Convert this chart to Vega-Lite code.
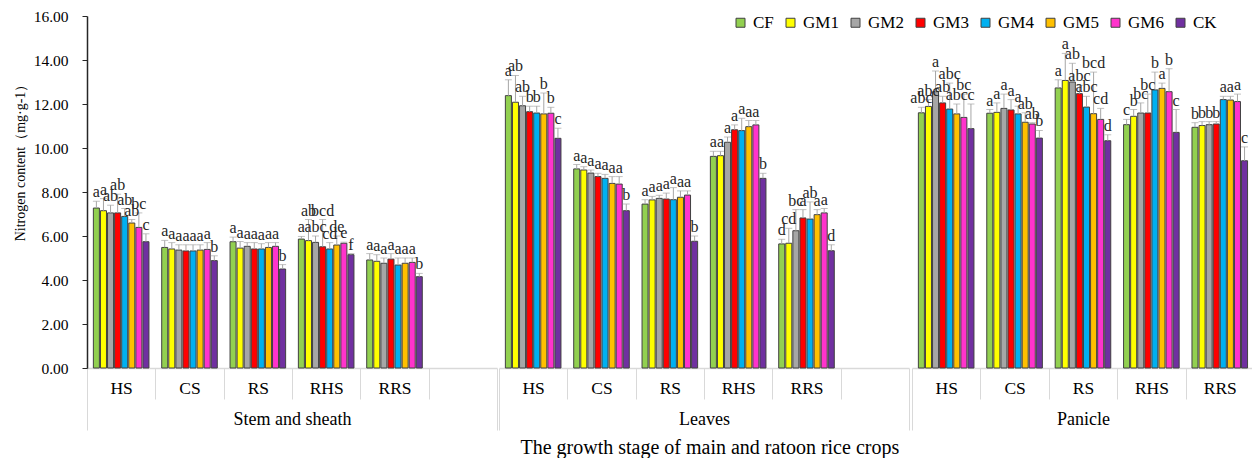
{
  "$schema": "https://vega.github.io/schema/vega-lite/v6.json",
  "background": "white",
  "padding": {"left": 13, "top": 9, "right": 0, "bottom": 0},
  "spacing": 0,
  "config": {
    "view": {"stroke": null},
    "font": "Liberation Serif",
    "concat": {"spacing": 0}
  },
  "title": {"text": "The growth stage of main and ratoon rice crops", "orient": "bottom", "anchor": "middle", "fontSize": 20, "fontWeight": "normal", "font": "Liberation Serif", "color": "#000000", "offset": 7, "dx": 76},
  "datasets": {
    "d": [
      {"o": "Stem and sheath", "s": "HS", "t": "CF", "v": 7.27, "hi": 7.58, "g": "a"},
      {"o": "Stem and sheath", "s": "HS", "t": "GM1", "v": 7.15, "hi": 7.7, "g": "a"},
      {"o": "Stem and sheath", "s": "HS", "t": "GM2", "v": 7.05, "hi": 7.4, "g": "ab"},
      {"o": "Stem and sheath", "s": "HS", "t": "GM3", "v": 7.05, "hi": 7.9, "g": "ab"},
      {"o": "Stem and sheath", "s": "HS", "t": "GM4", "v": 6.89, "hi": 7.25, "g": "ab"},
      {"o": "Stem and sheath", "s": "HS", "t": "GM5", "v": 6.59, "hi": 6.75, "g": "ab"},
      {"o": "Stem and sheath", "s": "HS", "t": "GM6", "v": 6.39, "hi": 7.05, "g": "bc"},
      {"o": "Stem and sheath", "s": "HS", "t": "CK", "v": 5.74, "hi": 6.1, "g": "c"},
      {"o": "Stem and sheath", "s": "CS", "t": "CF", "v": 5.48, "hi": 5.8, "g": "a"},
      {"o": "Stem and sheath", "s": "CS", "t": "GM1", "v": 5.41, "hi": 5.7, "g": "a"},
      {"o": "Stem and sheath", "s": "CS", "t": "GM2", "v": 5.36, "hi": 5.6, "g": "a"},
      {"o": "Stem and sheath", "s": "CS", "t": "GM3", "v": 5.32, "hi": 5.6, "g": "a"},
      {"o": "Stem and sheath", "s": "CS", "t": "GM4", "v": 5.32, "hi": 5.6, "g": "a"},
      {"o": "Stem and sheath", "s": "CS", "t": "GM5", "v": 5.36, "hi": 5.6, "g": "a"},
      {"o": "Stem and sheath", "s": "CS", "t": "GM6", "v": 5.39, "hi": 5.7, "g": "a"},
      {"o": "Stem and sheath", "s": "CS", "t": "CK", "v": 4.88, "hi": 5.1, "g": "b"},
      {"o": "Stem and sheath", "s": "RS", "t": "CF", "v": 5.74, "hi": 5.95, "g": "a"},
      {"o": "Stem and sheath", "s": "RS", "t": "GM1", "v": 5.45, "hi": 5.75, "g": "a"},
      {"o": "Stem and sheath", "s": "RS", "t": "GM2", "v": 5.53, "hi": 5.7, "g": "a"},
      {"o": "Stem and sheath", "s": "RS", "t": "GM3", "v": 5.41, "hi": 5.7, "g": "a"},
      {"o": "Stem and sheath", "s": "RS", "t": "GM4", "v": 5.41, "hi": 5.65, "g": "a"},
      {"o": "Stem and sheath", "s": "RS", "t": "GM5", "v": 5.48, "hi": 5.7, "g": "a"},
      {"o": "Stem and sheath", "s": "RS", "t": "GM6", "v": 5.53, "hi": 5.7, "g": "a"},
      {"o": "Stem and sheath", "s": "RS", "t": "CK", "v": 4.5, "hi": 4.7, "g": "b"},
      {"o": "Stem and sheath", "s": "RHS", "t": "CF", "v": 5.86, "hi": 5.98, "g": "a"},
      {"o": "Stem and sheath", "s": "RHS", "t": "GM1", "v": 5.79, "hi": 6.75, "g": "ab"},
      {"o": "Stem and sheath", "s": "RHS", "t": "GM2", "v": 5.71, "hi": 6.0, "g": "abc"},
      {"o": "Stem and sheath", "s": "RHS", "t": "GM3", "v": 5.51, "hi": 6.75, "g": "bcd"},
      {"o": "Stem and sheath", "s": "RHS", "t": "GM4", "v": 5.41, "hi": 5.7, "g": "cd"},
      {"o": "Stem and sheath", "s": "RHS", "t": "GM5", "v": 5.59, "hi": 6.0, "g": "de"},
      {"o": "Stem and sheath", "s": "RHS", "t": "GM6", "v": 5.67, "hi": 5.72, "g": "e"},
      {"o": "Stem and sheath", "s": "RHS", "t": "CK", "v": 5.15, "hi": 5.2, "g": "f"},
      {"o": "Stem and sheath", "s": "RRS", "t": "CF", "v": 4.91, "hi": 5.2, "g": "a"},
      {"o": "Stem and sheath", "s": "RRS", "t": "GM1", "v": 4.85, "hi": 5.15, "g": "a"},
      {"o": "Stem and sheath", "s": "RRS", "t": "GM2", "v": 4.76, "hi": 5.0, "g": "a"},
      {"o": "Stem and sheath", "s": "RRS", "t": "GM3", "v": 4.95, "hi": 5.2, "g": "a"},
      {"o": "Stem and sheath", "s": "RRS", "t": "GM4", "v": 4.68, "hi": 5.0, "g": "a"},
      {"o": "Stem and sheath", "s": "RRS", "t": "GM5", "v": 4.76, "hi": 5.0, "g": "a"},
      {"o": "Stem and sheath", "s": "RRS", "t": "GM6", "v": 4.8, "hi": 5.0, "g": "a"},
      {"o": "Stem and sheath", "s": "RRS", "t": "CK", "v": 4.15, "hi": 4.3, "g": "b"},
      {"o": "Leaves", "s": "HS", "t": "CF", "v": 12.38, "hi": 13.1, "g": "a"},
      {"o": "Leaves", "s": "HS", "t": "GM1", "v": 12.08, "hi": 13.3, "g": "ab"},
      {"o": "Leaves", "s": "HS", "t": "GM2", "v": 11.92, "hi": 12.35, "g": "ab"},
      {"o": "Leaves", "s": "HS", "t": "GM3", "v": 11.65, "hi": 11.9, "g": "b"},
      {"o": "Leaves", "s": "HS", "t": "GM4", "v": 11.59, "hi": 11.9, "g": "b"},
      {"o": "Leaves", "s": "HS", "t": "GM5", "v": 11.55, "hi": 12.5, "g": "b"},
      {"o": "Leaves", "s": "HS", "t": "GM6", "v": 11.58, "hi": 11.85, "g": "b"},
      {"o": "Leaves", "s": "HS", "t": "CK", "v": 10.44, "hi": 10.9, "g": "c"},
      {"o": "Leaves", "s": "CS", "t": "CF", "v": 9.05, "hi": 9.25, "g": "a"},
      {"o": "Leaves", "s": "CS", "t": "GM1", "v": 9.0, "hi": 9.15, "g": "a"},
      {"o": "Leaves", "s": "CS", "t": "GM2", "v": 8.86, "hi": 9.0, "g": "a"},
      {"o": "Leaves", "s": "CS", "t": "GM3", "v": 8.7, "hi": 8.85, "g": "a"},
      {"o": "Leaves", "s": "CS", "t": "GM4", "v": 8.62, "hi": 8.8, "g": "a"},
      {"o": "Leaves", "s": "CS", "t": "GM5", "v": 8.39, "hi": 8.7, "g": "a"},
      {"o": "Leaves", "s": "CS", "t": "GM6", "v": 8.36, "hi": 8.7, "g": "a"},
      {"o": "Leaves", "s": "CS", "t": "CK", "v": 7.15, "hi": 7.45, "g": "b"},
      {"o": "Leaves", "s": "RS", "t": "CF", "v": 7.45, "hi": 7.65, "g": "a"},
      {"o": "Leaves", "s": "RS", "t": "GM1", "v": 7.64, "hi": 7.8, "g": "a"},
      {"o": "Leaves", "s": "RS", "t": "GM2", "v": 7.71, "hi": 7.85, "g": "a"},
      {"o": "Leaves", "s": "RS", "t": "GM3", "v": 7.68, "hi": 7.95, "g": "a"},
      {"o": "Leaves", "s": "RS", "t": "GM4", "v": 7.65, "hi": 8.2, "g": "a"},
      {"o": "Leaves", "s": "RS", "t": "GM5", "v": 7.76, "hi": 8.05, "g": "a"},
      {"o": "Leaves", "s": "RS", "t": "GM6", "v": 7.86, "hi": 8.05, "g": "a"},
      {"o": "Leaves", "s": "RS", "t": "CK", "v": 5.76, "hi": 6.0, "g": "b"},
      {"o": "Leaves", "s": "RHS", "t": "CF", "v": 9.62, "hi": 9.85, "g": "a"},
      {"o": "Leaves", "s": "RHS", "t": "GM1", "v": 9.65, "hi": 9.85, "g": "a"},
      {"o": "Leaves", "s": "RHS", "t": "GM2", "v": 10.26, "hi": 10.5, "g": "a"},
      {"o": "Leaves", "s": "RHS", "t": "GM3", "v": 10.83, "hi": 11.05, "g": "a"},
      {"o": "Leaves", "s": "RHS", "t": "GM4", "v": 10.79, "hi": 11.35, "g": "a"},
      {"o": "Leaves", "s": "RHS", "t": "GM5", "v": 10.97, "hi": 11.25, "g": "a"},
      {"o": "Leaves", "s": "RHS", "t": "GM6", "v": 11.05, "hi": 11.25, "g": "a"},
      {"o": "Leaves", "s": "RHS", "t": "CK", "v": 8.62, "hi": 8.85, "g": "b"},
      {"o": "Leaves", "s": "RRS", "t": "CF", "v": 5.64, "hi": 5.85, "g": "d"},
      {"o": "Leaves", "s": "RRS", "t": "GM1", "v": 5.67, "hi": 6.35, "g": "cd"},
      {"o": "Leaves", "s": "RRS", "t": "GM2", "v": 6.24, "hi": 7.2, "g": "bc"},
      {"o": "Leaves", "s": "RRS", "t": "GM3", "v": 6.82, "hi": 7.2, "g": "a"},
      {"o": "Leaves", "s": "RRS", "t": "GM4", "v": 6.77, "hi": 7.55, "g": "ab"},
      {"o": "Leaves", "s": "RRS", "t": "GM5", "v": 6.97, "hi": 7.2, "g": "a"},
      {"o": "Leaves", "s": "RRS", "t": "GM6", "v": 7.05, "hi": 7.25, "g": "a"},
      {"o": "Leaves", "s": "RRS", "t": "CK", "v": 5.33, "hi": 5.6, "g": "d"},
      {"o": "Panicle", "s": "HS", "t": "CF", "v": 11.6, "hi": 11.85, "g": "abc"},
      {"o": "Panicle", "s": "HS", "t": "GM1", "v": 11.89, "hi": 12.2, "g": "abc"},
      {"o": "Panicle", "s": "HS", "t": "GM2", "v": 12.56, "hi": 13.5, "g": "a"},
      {"o": "Panicle", "s": "HS", "t": "GM3", "v": 12.05, "hi": 12.35, "g": "ab"},
      {"o": "Panicle", "s": "HS", "t": "GM4", "v": 11.77, "hi": 12.95, "g": "abc"},
      {"o": "Panicle", "s": "HS", "t": "GM5", "v": 11.55, "hi": 12.0, "g": "abc"},
      {"o": "Panicle", "s": "HS", "t": "GM6", "v": 11.39, "hi": 12.45, "g": "bc"},
      {"o": "Panicle", "s": "HS", "t": "CK", "v": 10.88, "hi": 12.0, "g": "c"},
      {"o": "Panicle", "s": "CS", "t": "CF", "v": 11.58, "hi": 11.75, "g": "a"},
      {"o": "Panicle", "s": "CS", "t": "GM1", "v": 11.62, "hi": 12.05, "g": "a"},
      {"o": "Panicle", "s": "CS", "t": "GM2", "v": 11.8, "hi": 12.45, "g": "a"},
      {"o": "Panicle", "s": "CS", "t": "GM3", "v": 11.73, "hi": 12.2, "g": "a"},
      {"o": "Panicle", "s": "CS", "t": "GM4", "v": 11.55, "hi": 11.9, "g": "a"},
      {"o": "Panicle", "s": "CS", "t": "GM5", "v": 11.17, "hi": 11.6, "g": "ab"},
      {"o": "Panicle", "s": "CS", "t": "GM6", "v": 11.09, "hi": 11.15, "g": "ab"},
      {"o": "Panicle", "s": "CS", "t": "CK", "v": 10.45, "hi": 10.8, "g": "b"},
      {"o": "Panicle", "s": "RS", "t": "CF", "v": 12.73, "hi": 13.1, "g": "a"},
      {"o": "Panicle", "s": "RS", "t": "GM1", "v": 13.07, "hi": 14.3, "g": "a"},
      {"o": "Panicle", "s": "RS", "t": "GM2", "v": 13.0, "hi": 13.85, "g": "ab"},
      {"o": "Panicle", "s": "RS", "t": "GM3", "v": 12.47, "hi": 12.85, "g": "abc"},
      {"o": "Panicle", "s": "RS", "t": "GM4", "v": 11.86, "hi": 12.35, "g": "abc"},
      {"o": "Panicle", "s": "RS", "t": "GM5", "v": 11.56, "hi": 13.45, "g": "bcd"},
      {"o": "Panicle", "s": "RS", "t": "GM6", "v": 11.3, "hi": 11.8, "g": "cd"},
      {"o": "Panicle", "s": "RS", "t": "CK", "v": 10.33, "hi": 10.6, "g": "d"},
      {"o": "Panicle", "s": "RHS", "t": "CF", "v": 11.06, "hi": 11.3, "g": "c"},
      {"o": "Panicle", "s": "RHS", "t": "GM1", "v": 11.44, "hi": 11.75, "g": "b"},
      {"o": "Panicle", "s": "RHS", "t": "GM2", "v": 11.59, "hi": 12.05, "g": "bc"},
      {"o": "Panicle", "s": "RHS", "t": "GM3", "v": 11.59, "hi": 12.45, "g": "bc"},
      {"o": "Panicle", "s": "RHS", "t": "GM4", "v": 12.64, "hi": 13.45, "g": "b"},
      {"o": "Panicle", "s": "RHS", "t": "GM5", "v": 12.71, "hi": 12.95, "g": "a"},
      {"o": "Panicle", "s": "RHS", "t": "GM6", "v": 12.56, "hi": 13.6, "g": "b"},
      {"o": "Panicle", "s": "RHS", "t": "CK", "v": 10.71, "hi": 11.75, "g": "c"},
      {"o": "Panicle", "s": "RRS", "t": "CF", "v": 10.94, "hi": 11.15, "g": "b"},
      {"o": "Panicle", "s": "RRS", "t": "GM1", "v": 11.02, "hi": 11.2, "g": "b"},
      {"o": "Panicle", "s": "RRS", "t": "GM2", "v": 11.06, "hi": 11.2, "g": "b"},
      {"o": "Panicle", "s": "RRS", "t": "GM3", "v": 11.09, "hi": 11.2, "g": "b"},
      {"o": "Panicle", "s": "RRS", "t": "GM4", "v": 12.2, "hi": 12.35, "g": "a"},
      {"o": "Panicle", "s": "RRS", "t": "GM5", "v": 12.18, "hi": 12.35, "g": "a"},
      {"o": "Panicle", "s": "RRS", "t": "GM6", "v": 12.11, "hi": 12.45, "g": "a"},
      {"o": "Panicle", "s": "RRS", "t": "CK", "v": 9.42, "hi": 10.05, "g": "c"}
    ]
  },
  "data": {"name": "d"},
  "hconcat": [
    {
      "width": 410,
      "height": 352,
      "transform": [{"filter": "datum.o == 'Stem and sheath'"}],
      "encoding": {
        "x": {"field": "s", "type": "nominal", "title": "Stem and sheath",
          "scale": {"domain": ["HS", "CS", "RS", "RHS", "RRS", "_"], "paddingInner": 0, "paddingOuter": 0},
          "axis": {"labelExpr": "datum.value == '_' ? '' : datum.value", "labelAngle": 0, "labelFont": "Liberation Serif", "labelFontSize": 17.5, "labelColor": "#000000", "labelBaseline": "middle", "labelPadding": -11, "labelOverlap": false,
            "tickBand": "extent", "tickColor": "#d9d9d9", "tickWidth": 1,
            "tickSize": {"condition": {"test": "datum.index == -1 || datum.index == 1", "value": 62}, "value": 31},
            "domainColor": "#d9d9d9", "domainWidth": 1.5,
            "titleFont": "Liberation Serif", "titleFontSize": 18, "titleFontWeight": "normal", "titleColor": "#000000", "titleY": 51, "titleBaseline": "middle"}},
        "xOffset": {"field": "t", "type": "nominal", "scale": {"domain": ["CF", "GM1", "GM2", "GM3", "GM4", "GM5", "GM6", "CK"], "paddingInner": 0.15, "paddingOuter": 0.9}},
        "y": {"field": "v", "type": "quantitative", "title": "Nitrogen content（mg·g-1）",
          "scale": {"domain": [0, 16], "nice": false},
          "axis": {"values": [0, 2, 4, 6, 8, 10, 12, 14, 16], "format": ".2f", "grid": false, "labelFont": "Liberation Serif", "labelFontSize": 15.5, "labelColor": "#000000", "labelPadding": 14, "tickSize": 5, "tickColor": "#262626", "domainColor": "#262626", "domainWidth": 1.5,
            "titleFont": "Liberation Serif", "titleFontSize": 14, "titleFontWeight": "normal", "titleColor": "#000000", "titlePadding": 6, "titleY": 143}}
      },
      "layer": [
        {
          "mark": {"type": "bar", "stroke": "#404040", "strokeWidth": 1},
          "encoding": {
            "fill": {"field": "t", "type": "nominal", "title": null,
              "scale": {"domain": ["CF", "GM1", "GM2", "GM3", "GM4", "GM5", "GM6", "CK"], "range": ["#92D050", "#FFFF00", "#A6A6A6", "#FF0000", "#00B0F0", "#FFC000", "#FF33CC", "#7030A0"]},
              "legend": {"orient": "none", "legendX": 645, "legendY": -2, "direction": "horizontal", "columns": 8, "padding": 0,
                "symbolType": "square", "symbolSize": 81, "symbolStrokeColor": "#404040", "symbolStrokeWidth": 1,
                "labelFont": "Liberation Serif", "labelFontSize": 17, "labelColor": "#000000", "labelOffset": 4, "columnPadding": 8}}
          }
        },
        {
          "mark": {"type": "rule", "color": "#a6a6a6", "strokeWidth": 1},
          "encoding": {
            "y2": {"field": "hi"}
          }
        },
        {
          "mark": {"type": "tick", "orient": "horizontal", "size": 7, "thickness": 1, "color": "#a6a6a6"},
          "encoding": {
            "y": {"field": "hi", "type": "quantitative", "title": "Nitrogen content（mg·g-1）",
              "scale": {"domain": [0, 16], "nice": false},
              "axis": {"values": [0, 2, 4, 6, 8, 10, 12, 14, 16], "format": ".2f", "grid": false, "labelFont": "Liberation Serif", "labelFontSize": 15.5, "labelColor": "#000000", "labelPadding": 14, "tickSize": 5, "tickColor": "#262626", "domainColor": "#262626", "domainWidth": 1.5,
                "titleFont": "Liberation Serif", "titleFontSize": 14, "titleFontWeight": "normal", "titleColor": "#000000", "titlePadding": 6, "titleY": 143}}
          }
        },
        {
          "mark": {"type": "text", "baseline": "alphabetic", "dy": -4, "fontSize": 16, "font": "Liberation Serif", "color": "#262626"},
          "encoding": {
            "y": {"field": "hi", "type": "quantitative", "title": "Nitrogen content（mg·g-1）",
              "scale": {"domain": [0, 16], "nice": false},
              "axis": {"values": [0, 2, 4, 6, 8, 10, 12, 14, 16], "format": ".2f", "grid": false, "labelFont": "Liberation Serif", "labelFontSize": 15.5, "labelColor": "#000000", "labelPadding": 14, "tickSize": 5, "tickColor": "#262626", "domainColor": "#262626", "domainWidth": 1.5,
                "titleFont": "Liberation Serif", "titleFontSize": 14, "titleFontWeight": "normal", "titleColor": "#000000", "titlePadding": 6, "titleY": 143}},
            "text": {"field": "g"}
          }
        }
      ]
    },
    {
      "width": 410,
      "height": 352,
      "transform": [{"filter": "datum.o == 'Leaves'"}],
      "encoding": {
        "x": {"field": "s", "type": "nominal", "title": "Leaves",
          "scale": {"domain": ["HS", "CS", "RS", "RHS", "RRS", "_"], "paddingInner": 0, "paddingOuter": 0},
          "axis": {"labelExpr": "datum.value == '_' ? '' : datum.value", "labelAngle": 0, "labelFont": "Liberation Serif", "labelFontSize": 17.5, "labelColor": "#000000", "labelBaseline": "middle", "labelPadding": -11, "labelOverlap": false,
            "tickBand": "extent", "tickColor": "#d9d9d9", "tickWidth": 1,
            "tickSize": {"condition": {"test": "datum.index == -1 || datum.index == 1", "value": 62}, "value": 31},
            "domainColor": "#d9d9d9", "domainWidth": 1.5,
            "titleFont": "Liberation Serif", "titleFontSize": 18, "titleFontWeight": "normal", "titleColor": "#000000", "titleY": 51, "titleBaseline": "middle"}},
        "xOffset": {"field": "t", "type": "nominal", "scale": {"domain": ["CF", "GM1", "GM2", "GM3", "GM4", "GM5", "GM6", "CK"], "paddingInner": 0.15, "paddingOuter": 0.9}},
        "y": {"field": "v", "type": "quantitative", "scale": {"domain": [0, 16], "nice": false}, "axis": null}
      },
      "layer": [
        {
          "mark": {"type": "bar", "stroke": "#404040", "strokeWidth": 1},
          "encoding": {
            "fill": {"field": "t", "type": "nominal", "title": null,
              "scale": {"domain": ["CF", "GM1", "GM2", "GM3", "GM4", "GM5", "GM6", "CK"], "range": ["#92D050", "#FFFF00", "#A6A6A6", "#FF0000", "#00B0F0", "#FFC000", "#FF33CC", "#7030A0"]},
              "legend": {"orient": "none", "legendX": 645, "legendY": -2, "direction": "horizontal", "columns": 8, "padding": 0,
                "symbolType": "square", "symbolSize": 81, "symbolStrokeColor": "#404040", "symbolStrokeWidth": 1,
                "labelFont": "Liberation Serif", "labelFontSize": 17, "labelColor": "#000000", "labelOffset": 4, "columnPadding": 8}}
          }
        },
        {
          "mark": {"type": "rule", "color": "#a6a6a6", "strokeWidth": 1},
          "encoding": {
            "y2": {"field": "hi"}
          }
        },
        {
          "mark": {"type": "tick", "orient": "horizontal", "size": 7, "thickness": 1, "color": "#a6a6a6"},
          "encoding": {
            "y": {"field": "hi", "type": "quantitative", "scale": {"domain": [0, 16], "nice": false}, "axis": null}
          }
        },
        {
          "mark": {"type": "text", "baseline": "alphabetic", "dy": -4, "fontSize": 16, "font": "Liberation Serif", "color": "#262626"},
          "encoding": {
            "y": {"field": "hi", "type": "quantitative", "scale": {"domain": [0, 16], "nice": false}, "axis": null},
            "text": {"field": "g"}
          }
        }
      ]
    },
    {
      "width": 342,
      "height": 352,
      "transform": [{"filter": "datum.o == 'Panicle'"}],
      "encoding": {
        "x": {"field": "s", "type": "nominal", "title": "Panicle",
          "scale": {"domain": ["HS", "CS", "RS", "RHS", "RRS"], "paddingInner": 0, "paddingOuter": 0},
          "axis": {"labelAngle": 0, "labelFont": "Liberation Serif", "labelFontSize": 17.5, "labelColor": "#000000", "labelBaseline": "middle", "labelPadding": -11, "labelOverlap": false,
            "tickBand": "extent", "tickColor": "#d9d9d9", "tickWidth": 1,
            "tickSize": {"condition": {"test": "datum.index == -1", "value": 62}, "value": 31},
            "domainColor": "#d9d9d9", "domainWidth": 1.5,
            "titleFont": "Liberation Serif", "titleFontSize": 18, "titleFontWeight": "normal", "titleColor": "#000000", "titleY": 51, "titleBaseline": "middle"}},
        "xOffset": {"field": "t", "type": "nominal", "scale": {"domain": ["CF", "GM1", "GM2", "GM3", "GM4", "GM5", "GM6", "CK"], "paddingInner": 0.15, "paddingOuter": 0.9}},
        "y": {"field": "v", "type": "quantitative", "scale": {"domain": [0, 16], "nice": false}, "axis": null}
      },
      "layer": [
        {
          "mark": {"type": "bar", "stroke": "#404040", "strokeWidth": 1},
          "encoding": {
            "fill": {"field": "t", "type": "nominal", "title": null,
              "scale": {"domain": ["CF", "GM1", "GM2", "GM3", "GM4", "GM5", "GM6", "CK"], "range": ["#92D050", "#FFFF00", "#A6A6A6", "#FF0000", "#00B0F0", "#FFC000", "#FF33CC", "#7030A0"]},
              "legend": {"orient": "none", "legendX": 645, "legendY": -2, "direction": "horizontal", "columns": 8, "padding": 0,
                "symbolType": "square", "symbolSize": 81, "symbolStrokeColor": "#404040", "symbolStrokeWidth": 1,
                "labelFont": "Liberation Serif", "labelFontSize": 17, "labelColor": "#000000", "labelOffset": 4, "columnPadding": 8}}
          }
        },
        {
          "mark": {"type": "rule", "color": "#a6a6a6", "strokeWidth": 1},
          "encoding": {
            "y2": {"field": "hi"}
          }
        },
        {
          "mark": {"type": "tick", "orient": "horizontal", "size": 7, "thickness": 1, "color": "#a6a6a6"},
          "encoding": {
            "y": {"field": "hi", "type": "quantitative", "scale": {"domain": [0, 16], "nice": false}, "axis": null}
          }
        },
        {
          "mark": {"type": "text", "baseline": "alphabetic", "dy": -4, "fontSize": 16, "font": "Liberation Serif", "color": "#262626"},
          "encoding": {
            "y": {"field": "hi", "type": "quantitative", "scale": {"domain": [0, 16], "nice": false}, "axis": null},
            "text": {"field": "g"}
          }
        }
      ]
    }
  ]
}
